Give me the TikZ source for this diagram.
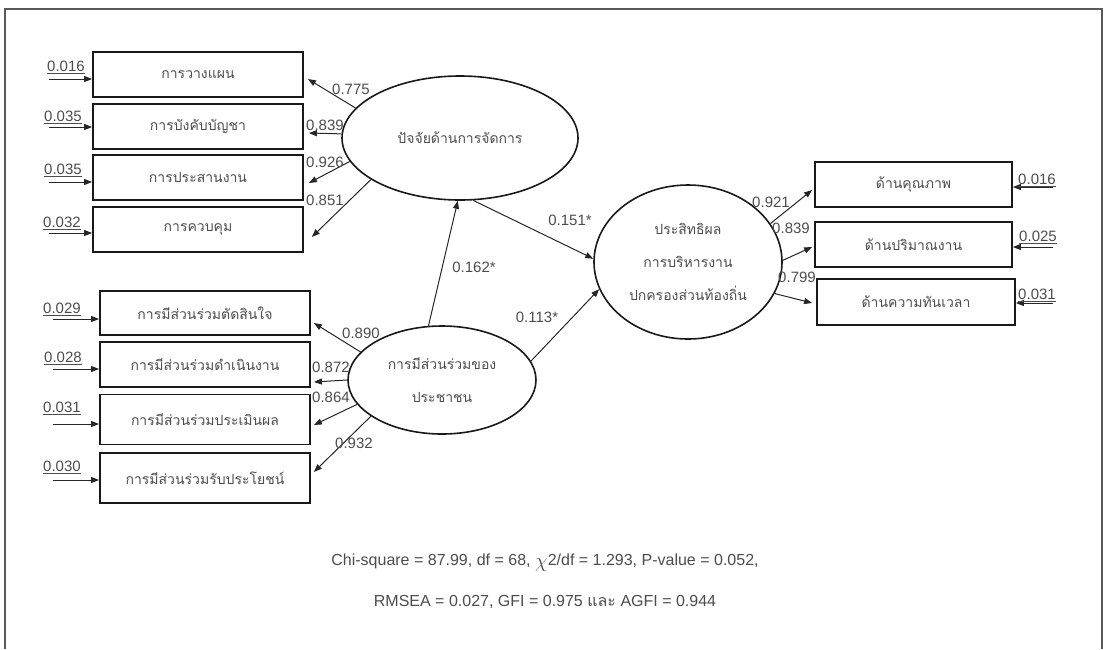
\documentclass[tikz,border=0pt]{standalone}
\usepackage{fontspec}
\setmainfont{Liberation Sans}
\newfontfamily\thai[Script=Thai]{Loma}
\usetikzlibrary{shapes.geometric,arrows.meta,calc}
\definecolor{txt}{gray}{0.3}
\begin{document}
\begin{tikzpicture}[x=1pt,y=-1pt,
  obs/.style={draw=black!90,line width=1.8pt,rectangle,inner sep=0pt,minimum width=210pt,minimum height=45pt,text=txt,font=\thai\fontsize{14}{16}\selectfont},
  lat/.style={draw=black!90,line width=1.6pt,ellipse,inner sep=0pt,text=txt,align=center,font=\thai\fontsize{14}{33}\selectfont},
  arr/.style={-{Triangle[length=8pt,width=6pt]},line width=1pt,draw=black!85},
  lbl/.style={inner sep=0pt,text=txt,font=\fontsize{15}{16}\selectfont},
  ]
\useasboundingbox (0,0) rectangle (1110,649);
\draw[line width=2pt,black!65] (5,649) -- (5,9) -- (1102,9) -- (1102,649);

% latent variables
\node[lat,minimum width=236pt,minimum height=124pt] (E1) at (460,138) {ปัจจัยด้านการจัดการ};
\node[lat,minimum width=188pt,minimum height=108pt] (E2) at (442,380) {การมีส่วนร่วมของ\\ประชาชน};
\node[lat,minimum width=188pt,minimum height=154pt] (E3) at (688,262) {ประสิทธิผล\\การบริหารงาน\\ปกครองส่วนท้องถิ่น};

% observed, top left
\node[obs] (L1) at (198,74.5) {การวางแผน};
\node[obs] (L2) at (198,126.5) {การบังคับบัญชา};
\node[obs] (L3) at (198,177.5) {การประสานงาน};
\node[obs] (L4) at (198,229.5) {การควบคุม};
% observed, bottom left
\node[obs,minimum height=44pt] (M1) at (205,313) {การมีส่วนร่วมตัดสินใจ};
\node[obs] (M2) at (205,364.5) {การมีส่วนร่วมดำเนินงาน};
\node[obs,minimum height=50pt] (M3) at (205,419.5) {การมีส่วนร่วมประเมินผล};
\node[obs,minimum height=50pt] (M4) at (205,478) {การมีส่วนร่วมรับประโยชน์};
% observed, right
\node[obs,minimum width=197pt] (R1) at (913.5,184.5) {ด้านคุณภาพ};
\node[obs,minimum width=197pt] (R2) at (913.5,244.5) {ด้านปริมาณงาน};
\node[obs,minimum width=198pt,minimum height=46pt] (R3) at (916,302) {ด้านความทันเวลา};

% error terms, left top
\coordinate (eL1) at (49,79);
\coordinate (eL2) at (49,127);
\coordinate (eL3) at (49,182);
\coordinate (eL4) at (49,233);
\draw[arr] (eL1) -- (eL1 -| L1.west);
\draw[arr] (eL2) -- (eL2 -| L2.west);
\draw[arr] (eL3) -- (eL3 -| L3.west);
\draw[arr] (eL4) -- (eL4 -| L4.west);
\node[lbl] (tL1) at (66,67) {\underline{0.016}};
\node[lbl] (tL2) at (63,117) {\underline{0.035}};
\node[lbl] (tL3) at (63,170) {\underline{0.035}};
\node[lbl] (tL4) at (62,223) {\underline{0.032}};
% error terms, left bottom
\coordinate (eM1) at (53,319);
\coordinate (eM2) at (53,369);
\coordinate (eM3) at (53,424);
\coordinate (eM4) at (53,480);
\draw[arr] (eM1) -- (eM1 -| M1.west);
\draw[arr] (eM2) -- (eM2 -| M2.west);
\draw[arr] (eM3) -- (eM3 -| M3.west);
\draw[arr] (eM4) -- (eM4 -| M4.west);
\node[lbl] (tM1) at (62,309) {\underline{0.029}};
\node[lbl] (tM2) at (63,358) {\underline{0.028}};
\node[lbl] (tM3) at (62,408) {\underline{0.031}};
\node[lbl] (tM4) at (62,467) {\underline{0.030}};
% error terms, right
\coordinate (eR1) at (1053,187);
\coordinate (eR2) at (1053,247);
\coordinate (eR3) at (1053,303);
\draw[arr] (eR1) -- (eR1 -| R1.east);
\draw[arr] (eR2) -- (eR2 -| R2.east);
\draw[arr] (eR3) -- (eR3 -| R3.east);
\node[lbl] (tR1) at (1037,180) {\underline{0.016}};
\node[lbl] (tR2) at (1038,237) {\underline{0.025}};
\node[lbl] (tR3) at (1037,295) {\underline{0.031}};

% loadings E1
\draw[arr] (E1.164) -- ($(L1.east)+(4,4.5)$);
\draw[arr] (E1.178) -- ($(L2.east)+(5,6.5)$);
\draw[arr] (E1.192.5) -- ($(L3.east)+(5,5.5)$);
\draw[arr] (E1.205.6) -- ($(L4.east)+(8,7.5)$);
\node[lbl] (a1) at (351,89) {0.775};
\node[lbl] (a2) at (325,125) {0.839};
\node[lbl] (a3) at (325,162) {0.926};
\node[lbl] (a4) at (325,200) {0.851};
% loadings E2
\draw[arr] (E2.161) -- ($(M1.east)+(3,10)$);
\draw[arr] (E2.180) -- ($(M2.east)+(3,17.5)$);
\draw[arr] (E2.196.6) -- ($(M3.east)+(3,5.5)$);
\draw[arr] (E2.207) -- ($(M4.east)+(3,-6)$);
\node[lbl] (b1) at (361,333) {0.890};
\node[lbl] (b2) at (331,367) {0.872};
\node[lbl] (b3) at (331,397) {0.864};
\node[lbl] (b4) at (354,443) {0.932};
% loadings E3
\draw[arr] (E3.25.4) -- ($(R1.west)+(-2,5.5)$);
\draw[arr] (E3.1) -- ($(R2.west)+(-2,2.5)$);
\draw[arr] (E3.340) -- ($(R3.west)+(-4,1)$);
\node[lbl] (c1) at (771,202) {0.921};
\node[lbl] (c2) at (791,228) {0.839};
\node[lbl] (c3) at (797,277) {0.799};

% structural paths
\draw[arr] (E2.104) -- (E1.268);
\draw[arr] (E1.282) -- (E3.178.7);
\draw[arr] (E2.12.8) -- (E3.197.6);
\node[lbl] (s1) at (474,267) {0.162*};
\node[lbl] (s2) at (570,220) {0.151*};
\node[lbl] (s3) at (537,317) {0.113*};

% fit statistics
\node[lbl,font=\fontsize{16}{18}\selectfont] (fit1) at (545,563) {Chi-square = 87.99, df = 68, \raisebox{-2pt}{\fontsize{20}{20}\selectfont$\chi$}2/df = 1.293, P-value = 0.052,};
\node[lbl,font=\fontsize{16}{18}\selectfont] (fit2) at (545,602) {RMSEA = 0.027, GFI = 0.975 {\thai และ} AGFI = 0.944};
\end{tikzpicture}
\end{document}
